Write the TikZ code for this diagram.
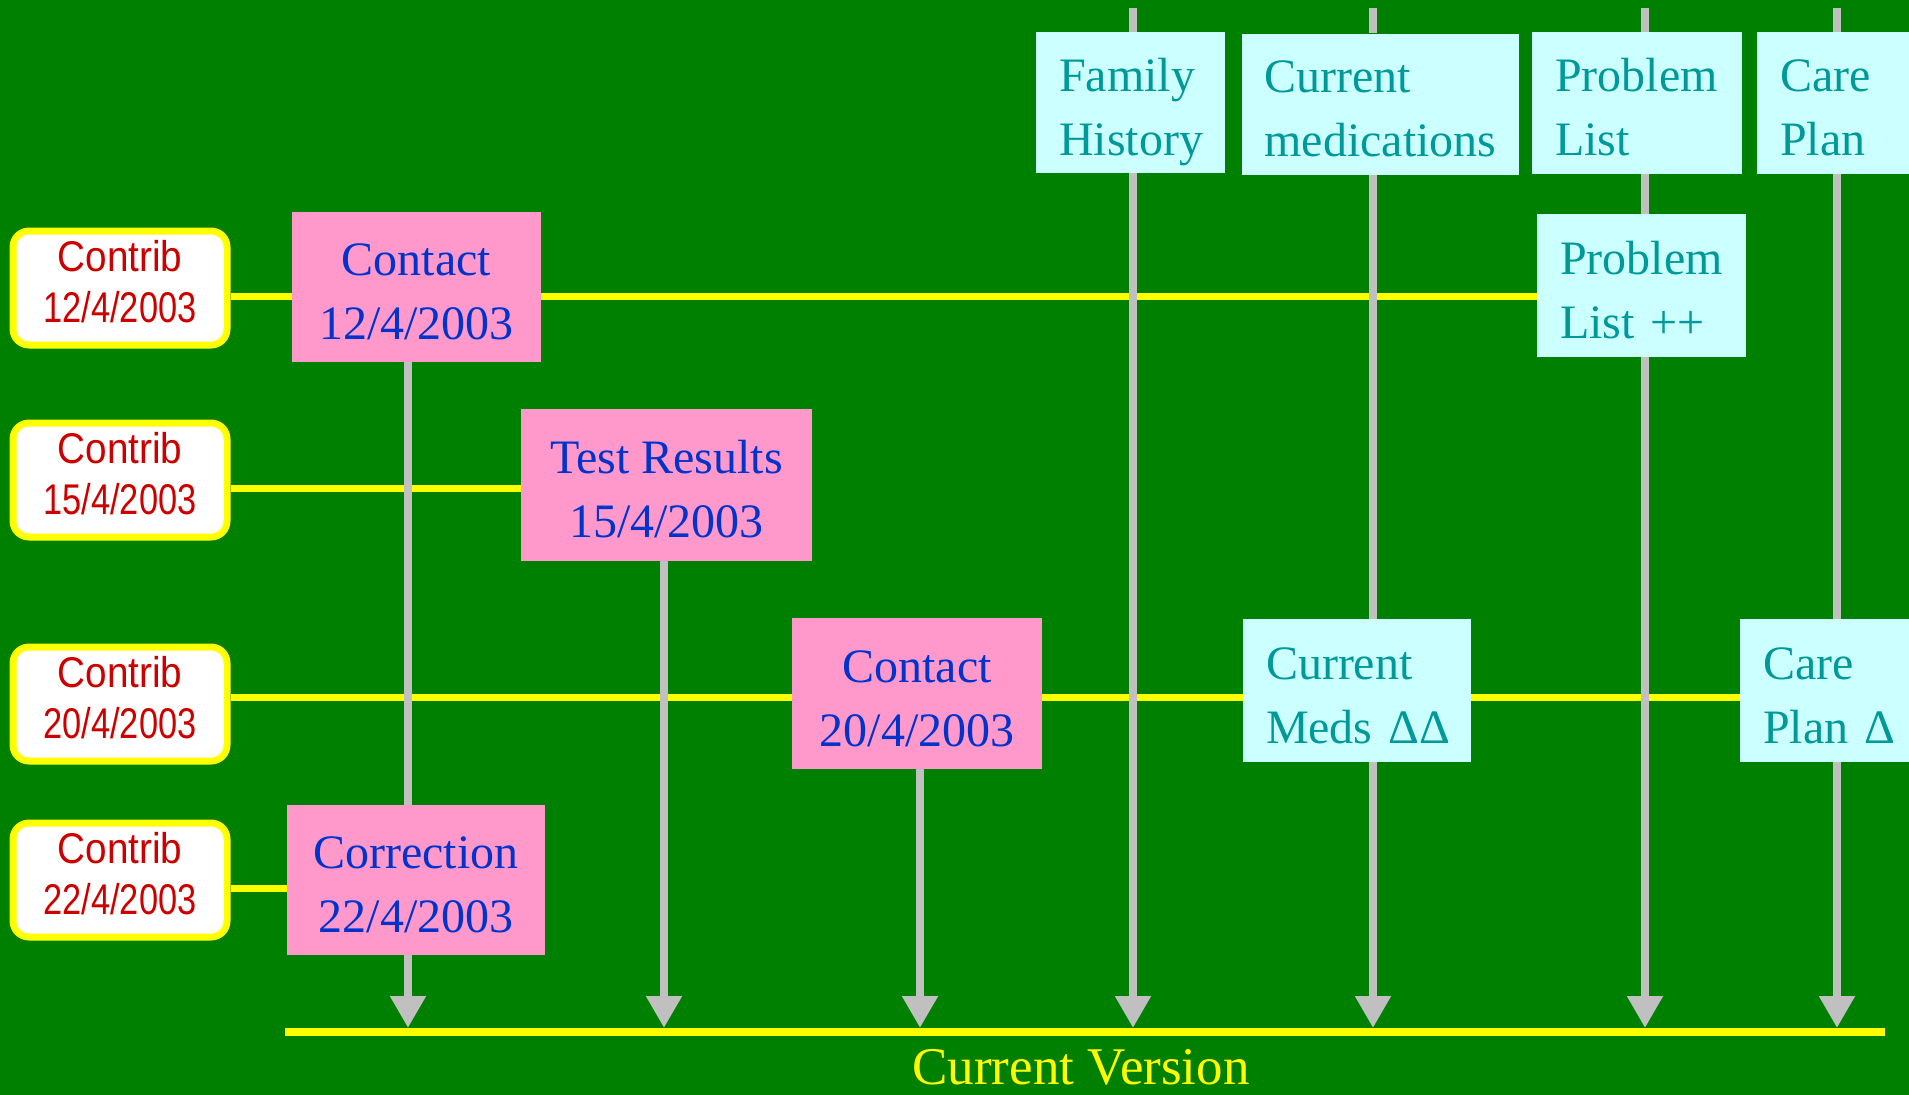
\documentclass[tikz,border=0pt]{standalone}
\usepackage{fontspec}
\setmainfont{Liberation Serif}
\newfontfamily\narrowsans[FakeStretch=0.80]{Liberation Sans}
\newfontfamily\wordsans[FakeStretch=0.90]{Liberation Sans}
\usetikzlibrary{arrows.meta}
\definecolor{bggreen}{HTML}{008000}
\definecolor{ylw}{HTML}{FFFF00}
\definecolor{pinkfill}{HTML}{FF99CC}
\definecolor{bluetext}{HTML}{0033CC}
\definecolor{cyanfill}{HTML}{CCFFFF}
\definecolor{tealtext}{HTML}{009999}
\definecolor{redtext}{HTML}{CC0000}
\definecolor{greyline}{HTML}{C0C0C0}
\pgfdeclarelayer{bg}
\pgfsetlayers{bg,main}
\tikzset{
  contrib/.style={draw=ylw, line width=7pt, fill=white, rounded corners=16pt,
    minimum width=214pt, minimum height=114pt, inner sep=0pt, align=center,
    text=redtext, font=\narrowsans\fontsize{43}{51}\selectfont},
  pinkbox/.style={fill=pinkfill, inner sep=0pt, align=center, text=bluetext,
    font=\fontsize{48}{64}\selectfont},
  cyanbox/.style={fill=cyanfill, inner ysep=0pt, inner xsep=23pt, align=left,
    text=tealtext, font=\fontsize{48}{64}\selectfont,
    execute at begin node={\rule{0pt}{56pt}},
    execute at end node={\rule[-15pt]{0pt}{15pt}}},
  rowline/.style={draw=ylw, line width=7pt},
  colline/.style={draw=greyline, line width=8pt},
  colarrow/.style={colline, -{Triangle[length=32pt, width=34pt]}},
}
\newcommand{\cbox}[6]{% name, cx, cy, w, h, text
  \node[cyanbox, text width=#4pt-46pt, minimum height=#5pt] (#1) at (#2,#3) {#6};}
\newcommand{\ctb}{{\wordsans Contrib}}
\newcommand{\ptop}{\rule{0pt}{56pt}}
\newcommand{\pbot}{\rule[-15pt]{0pt}{15pt}}
\newcommand{\ctop}{\rule{0pt}{32pt}}
\newcommand{\cbot}{\rule[-15pt]{0pt}{15pt}}
\begin{document}
\begin{tikzpicture}[x=1pt, y=-1pt]
\useasboundingbox (0,0) rectangle (1909,1095);

% contributions
\node[contrib] (c1) at (120,288) {\ctop\ctb\\12/4/2003\cbot};
\node[contrib] (c2) at (120,480) {\ctop\ctb\\15/4/2003\cbot};
\node[contrib] (c3) at (120,704) {\ctop\ctb\\20/4/2003\cbot};
\node[contrib] (c4) at (120,880) {\ctop\ctb\\22/4/2003\cbot};

% pink composition boxes
\node[pinkbox, minimum width=249pt, minimum height=150pt] (p1) at (416.5,287) {\ptop Contact\\12/4/2003\pbot};
\node[pinkbox, minimum width=291pt, minimum height=152pt] (p2) at (666.5,485) {\ptop Test Results\\15/4/2003\pbot};
\node[pinkbox, minimum width=250pt, minimum height=151pt] (p3) at (917,693.5) {\ptop Contact\\20/4/2003\pbot};
\node[pinkbox, minimum width=258pt, minimum height=150pt] (p4) at (416,880) {\ptop Correction\\22/4/2003\pbot};

% cyan boxes
\cbox{t1}{1130.5}{102.5}{189}{141}{Family\\History}
\cbox{t2}{1380}{104}{277}{141}{Current\\medications}
\cbox{t3}{1637}{103}{210}{142}{Problem\\List}
\cbox{t4}{1833}{103}{152}{142}{Care\\Plan}
\cbox{m1}{1641.5}{285.5}{209}{143}{Problem\\List~++}
\cbox{m2}{1357}{690.5}{228}{143}{Current\\Meds~ΔΔ}
\cbox{m3}{1824.5}{690.5}{169}{143}{Care\\Plan~Δ}

% reference coordinates
\coordinate (r1) at (0,296);
\coordinate (r2) at (0,488);
\coordinate (r3) at (0,697);
\coordinate (r4) at (0,888);
\coordinate (k1) at (408,0);
\coordinate (k2) at (664,0);
\coordinate (k3) at (920,0);
\coordinate (k4) at (1133,0);
\coordinate (k5) at (1373,0);
\coordinate (k6) at (1645,0);
\coordinate (k7) at (1837,0);
\coordinate (top) at (0,8);
\coordinate (base) at (0,1028);
\coordinate (b1) at (285,1032);
\coordinate (b2) at (1885,1032);

\node[text=ylw, font=\fontsize{53}{60}\selectfont, anchor=base, inner sep=0pt] (cv) at (1081,1084) {Current Version};

\begin{pgfonlayer}{bg}
\fill[bggreen] (0,0) rectangle (1909,1095);
% contribution lines
\draw[rowline] (c1.east |- r1) -- (p1.west |- r1);
\draw[rowline] (p1.east |- r1) -- (m1.west |- r1);
\draw[rowline] (c2.east |- r2) -- (p2.west |- r2);
\draw[rowline] (c3.east |- r3) -- (p3.west |- r3);
\draw[rowline] (p3.east |- r3) -- (m2.west |- r3);
\draw[rowline] (m2.east |- r3) -- (m3.west |- r3);
\draw[rowline] (c4.east |- r4) -- (p4.west |- r4);
% current version line
\draw[draw=ylw, line width=8pt] (b1) -- (b2);
% version columns
\draw[colline] (p1.south -| k1) -- (p4.north -| k1);
\draw[colarrow] (p4.south -| k1) -- (k1 |- base);
\draw[colarrow] (p2.south -| k2) -- (k2 |- base);
\draw[colarrow] (p3.south -| k3) -- (k3 |- base);
\draw[colline] (k4 |- top) -- (t1.north -| k4);
\draw[colarrow] (t1.south -| k4) -- (k4 |- base);
\draw[colline] (k5 |- top) -- (t2.north -| k5);
\draw[colline] (t2.south -| k5) -- (m2.north -| k5);
\draw[colarrow] (m2.south -| k5) -- (k5 |- base);
\draw[colline] (k6 |- top) -- (t3.north -| k6);
\draw[colline] (t3.south -| k6) -- (m1.north -| k6);
\draw[colarrow] (m1.south -| k6) -- (k6 |- base);
\draw[colline] (k7 |- top) -- (t4.north -| k7);
\draw[colline] (t4.south -| k7) -- (m3.north -| k7);
\draw[colarrow] (m3.south -| k7) -- (k7 |- base);
\end{pgfonlayer}
\end{tikzpicture}
\end{document}
